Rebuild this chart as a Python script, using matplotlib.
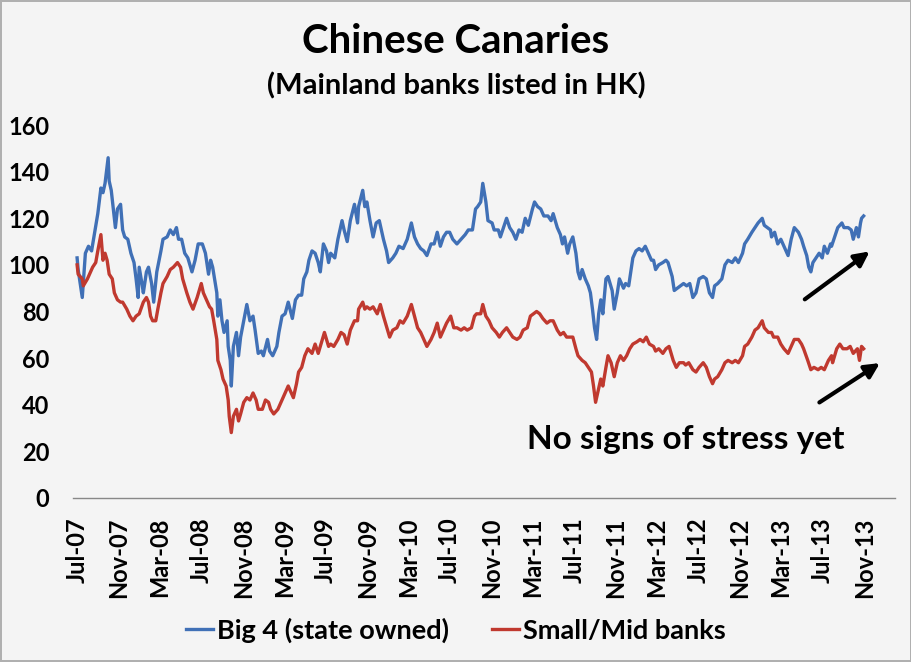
import numpy as np
import pandas as pd
import matplotlib
matplotlib.use("Agg")
import matplotlib.pyplot as plt

# months since Jul-2007 and index levels
big4_months = [0.0, 0.1, 0.5, 0.8, 1.1, 1.4, 1.7, 2.0, 2.3, 2.5, 2.7, 3.0, 3.1, 3.3, 3.5, 3.7, 3.9, 4.2, 4.4, 4.6,
               4.9, 5.2, 5.5, 5.7, 5.9, 6.0, 6.3, 6.4, 6.7, 6.9, 7.2, 7.4, 7.7, 8.1, 8.3, 8.7, 9.0, 9.3, 9.6, 9.8,
               10.1, 10.4, 10.7, 11.1, 11.4, 11.7, 12.1, 12.4, 12.7, 12.9, 13.1, 13.5, 13.6, 13.8, 14.0, 14.2, 14.5, 14.6, 14.8, 14.9,
               15.1, 15.4, 15.6, 15.8, 16.1, 16.4, 16.7, 17.0, 17.2, 17.5, 17.8, 18.0, 18.4, 18.6, 18.9, 19.3, 19.5, 19.8, 20.1, 20.4,
               20.8, 21.1, 21.4, 21.7, 21.9, 22.2, 22.4, 22.7, 23.0, 23.3, 23.5, 23.8, 24.1, 24.3, 24.5, 24.9, 25.2, 25.6, 25.8, 26.1,
               26.4, 26.8, 27.1, 27.2, 27.6, 27.8, 28.0, 28.3, 28.6, 28.9, 29.2, 29.6, 29.9, 30.1, 30.5, 30.8, 31.1, 31.5, 31.9, 32.3,
               32.6, 32.9, 33.2, 33.5, 33.8, 34.2, 34.5, 34.8, 35.1, 35.4, 35.7, 36.0, 36.3, 36.7, 37.1, 37.5, 37.8, 38.2, 38.5, 38.7,
               39.0, 39.2, 39.5, 39.7, 40.1, 40.3, 40.7, 40.9, 41.2, 41.5, 41.8, 42.1, 42.4, 42.7, 43.0, 43.3, 43.6, 44.0, 44.2, 44.5,
               44.8, 45.1, 45.5, 45.8, 46.0, 46.4, 46.7, 46.9, 47.1, 47.4, 47.6, 47.9, 48.2, 48.4, 48.6, 48.8, 49.1, 49.4, 49.6, 49.8,
               50.0, 50.2, 50.4, 50.6, 50.8, 51.1, 51.3, 51.7, 51.9, 52.2, 52.4, 52.8, 53.0, 53.3, 53.7, 54.0, 54.3, 54.6, 54.9, 55.2,
               55.5, 55.7, 55.9, 56.2, 56.6, 56.9, 57.1, 57.5, 57.7, 58.0, 58.3, 58.6, 58.9, 59.2, 59.5, 59.8, 60.1, 60.5, 60.8, 61.1,
               61.4, 61.6, 61.9, 62.3, 62.6, 62.9, 63.3, 63.6, 63.9, 64.3, 64.5, 64.8, 65.2, 65.5, 65.8, 66.2, 66.4, 66.7, 67.0, 67.1,
               67.4, 67.7, 68.0, 68.3, 68.7, 69.0, 69.3, 69.7, 70.0, 70.2, 70.5, 70.7, 70.9, 71.1, 71.4, 71.7, 72.0, 72.2, 72.5, 72.8,
               72.9, 73.2, 73.5, 73.9, 74.1, 74.5, 74.8, 75.0, 75.3, 75.5, 75.7, 75.8, 76.0]
big4_values = [103, 98, 86, 105, 108, 106, 114, 122, 133, 131, 135, 146, 136, 132, 124, 116, 124, 126, 115, 112,
               111, 105, 101, 94, 86, 99, 91, 88, 97, 99, 92, 84, 97, 106, 111, 112, 115, 113, 116, 111,
               111, 105, 103, 97, 102, 109, 109, 105, 96, 102, 99, 88, 78, 85, 76, 71, 76, 65, 59, 48,
               65, 71, 61, 69, 76, 83, 76, 78, 72, 62, 63, 61, 68, 63, 61, 65, 71, 78, 79, 84,
               77, 85, 87, 87, 94, 97, 102, 106, 105, 101, 97, 109, 106, 101, 105, 103, 111, 119, 115, 110,
               119, 126, 118, 125, 132, 125, 127, 119, 112, 118, 119, 111, 106, 101, 103, 105, 108, 107, 111, 118,
               112, 109, 107, 106, 104, 109, 109, 114, 108, 112, 114, 114, 111, 109, 111, 113, 115, 115, 124, 125,
               127, 135, 127, 119, 118, 115, 115, 112, 116, 120, 116, 114, 111, 115, 114, 120, 117, 124, 127, 125,
               124, 121, 121, 119, 122, 116, 113, 109, 112, 105, 109, 112, 105, 97, 94, 98, 94, 91, 88, 81,
               73, 68, 79, 85, 79, 94, 95, 89, 81, 88, 94, 90, 92, 91, 103, 106, 107, 106, 108, 105,
               102, 102, 98, 100, 101, 102, 101, 95, 89, 90, 91, 92, 91, 92, 86, 88, 94, 95, 94, 88,
               86, 91, 92, 94, 100, 102, 101, 103, 101, 105, 109, 111, 114, 116, 118, 120, 117, 116, 115, 112,
               114, 109, 111, 108, 104, 111, 116, 114, 111, 108, 104, 99, 97, 101, 103, 105, 103, 108, 105, 109,
               108, 112, 116, 118, 116, 116, 115, 111, 116, 112, 118, 120, 121]

small_months = [0.0, 0.1, 0.5, 0.6, 1.0, 1.2, 1.5, 1.8, 2.0, 2.3, 2.5, 2.7, 2.9, 3.1, 3.4, 3.6, 3.9, 4.2, 4.4, 4.8,
                5.1, 5.4, 5.7, 6.0, 6.4, 6.7, 6.9, 7.1, 7.3, 7.6, 7.8, 8.1, 8.3, 8.7, 9.0, 9.3, 9.7, 10.0, 10.2, 10.6,
                10.9, 11.2, 11.6, 12.0, 12.2, 12.6, 12.8, 13.0, 13.2, 13.5, 13.6, 13.9, 14.1, 14.4, 14.6, 14.7, 14.9, 15.1, 15.4, 15.6,
                15.8, 16.1, 16.4, 16.7, 17.0, 17.3, 17.5, 17.9, 18.2, 18.5, 18.7, 19.0, 19.4, 19.7, 20.0, 20.4, 20.7, 20.9, 21.2, 21.4,
                21.7, 22.0, 22.3, 22.7, 23.0, 23.3, 23.7, 23.9, 24.3, 24.5, 24.8, 25.2, 25.5, 25.8, 26.1, 26.4, 26.8, 27.1, 27.2, 27.6,
                27.8, 28.0, 28.3, 28.6, 29.0, 29.3, 29.6, 30.0, 30.2, 30.5, 30.9, 31.2, 31.5, 31.9, 32.3, 32.6, 32.9, 33.2, 33.5, 33.8,
                34.2, 34.5, 34.8, 35.1, 35.4, 35.7, 36.1, 36.4, 36.7, 37.1, 37.4, 37.7, 38.1, 38.4, 38.6, 39.0, 39.2, 39.5, 39.8, 40.1,
                40.5, 40.8, 41.1, 41.5, 41.8, 42.1, 42.5, 42.8, 43.1, 43.5, 43.8, 44.1, 44.4, 44.7, 45.0, 45.4, 45.7, 46.0, 46.4, 46.7,
                47.0, 47.3, 47.6, 47.9, 48.2, 48.4, 48.8, 49.1, 49.4, 49.7, 49.9, 50.1, 50.3, 50.6, 50.8, 51.1, 51.3, 51.6, 51.9, 52.2,
                52.5, 52.8, 53.1, 53.4, 53.7, 54.1, 54.4, 54.7, 55.0, 55.3, 55.7, 55.9, 56.2, 56.6, 56.9, 57.2, 57.6, 57.9, 58.2, 58.6,
                58.8, 59.1, 59.5, 59.8, 60.1, 60.5, 60.8, 61.1, 61.4, 61.6, 61.9, 62.3, 62.6, 62.9, 63.3, 63.6, 63.9, 64.3, 64.5, 64.8,
                65.2, 65.5, 65.8, 66.2, 66.4, 66.8, 67.1, 67.3, 67.7, 68.0, 68.3, 68.7, 69.0, 69.3, 69.7, 70.0, 70.2, 70.6, 70.9, 71.2,
                71.6, 71.9, 72.2, 72.6, 72.9, 73.0, 73.4, 73.7, 74.0, 74.4, 74.7, 75.0, 75.4, 75.6, 75.8, 76.0]
small_values = [100, 96, 94, 91, 94, 96, 99, 101, 106, 113, 102, 105, 102, 96, 94, 88, 85, 84, 84, 81,
                78, 76, 78, 79, 84, 86, 84, 78, 76, 76, 81, 88, 92, 95, 98, 99, 101, 99, 94, 88,
                84, 81, 86, 92, 88, 84, 82, 81, 76, 68, 59, 55, 51, 48, 42, 35, 28, 35, 38, 33,
                36, 41, 43, 42, 45, 42, 38, 38, 42, 41, 38, 36, 38, 41, 44, 48, 45, 43, 49, 54,
                56, 61, 64, 62, 66, 62, 68, 71, 65, 66, 65, 68, 71, 70, 66, 72, 76, 76, 81, 84,
                81, 82, 81, 82, 79, 83, 78, 72, 69, 72, 73, 76, 75, 78, 83, 78, 73, 71, 68, 65,
                68, 71, 75, 69, 72, 75, 78, 73, 73, 72, 73, 72, 73, 78, 79, 79, 83, 78, 76, 73,
                71, 69, 71, 73, 71, 69, 68, 69, 72, 73, 78, 79, 80, 79, 77, 75, 76, 76, 72, 70,
                71, 69, 69, 69, 64, 61, 59, 58, 56, 54, 48, 41, 45, 51, 48, 56, 61, 58, 52, 58,
                61, 59, 61, 64, 66, 67, 68, 67, 69, 66, 65, 63, 64, 62, 64, 65, 59, 56, 58, 58,
                57, 58, 55, 54, 56, 58, 56, 52, 49, 51, 52, 55, 58, 59, 58, 59, 58, 61, 65, 66,
                69, 72, 73, 76, 73, 71, 71, 69, 69, 66, 64, 62, 65, 68, 68, 66, 64, 59, 55, 56,
                55, 56, 55, 59, 61, 58, 64, 66, 64, 64, 65, 62, 64, 59, 65, 64]

tick_labels = ["Jul-07", "Nov-07", "Mar-08", "Jul-08", "Nov-08", "Mar-09", "Jul-09", "Nov-09", "Mar-10", "Jul-10",
               "Nov-10", "Mar-11", "Jul-11", "Nov-11", "Mar-12", "Jul-12", "Nov-12", "Mar-13", "Jul-13", "Nov-13"]

start = pd.Timestamp("2007-07-01")


def to_dates(months):
    return start + pd.to_timedelta(np.array(months) * 30.44, unit="D")


big4_dates = to_dates(big4_months)
small_dates = to_dates(small_months)
tick_dates = pd.to_datetime(tick_labels, format="%b-%y")

plt.rcParams["font.family"] = ["Lato", "DejaVu Sans"]
plt.rcParams["font.weight"] = "bold"

bg = "#f4f4f4"
blue = "#4070b6"
red = "#c0392f"

fig = plt.figure(figsize=(9.12, 6.62), dpi=100)
fig.patch.set_facecolor(bg)
fig.patch.set_edgecolor("#b0b0b0")
fig.patch.set_linewidth(1.5)
ax = fig.add_axes([0.080, 0.248, 0.901, 0.563])
ax.set_facecolor(bg)

ax.plot(big4_dates, big4_values, color=blue, lw=2.4, label="Big 4 (state owned)")
ax.plot(small_dates, small_values, color=red, lw=2.4, label="Small/Mid banks")

ax.set_ylim(0, 160)
ax.set_yticks(range(0, 161, 20))
ax.set_xlim(to_dates([-0.4])[0], to_dates([79.0])[0])
ax.set_xticks(tick_dates)
ax.set_xticklabels(tick_labels, rotation=90)
ax.tick_params(axis="both", length=0, labelsize=17)
ax.tick_params(axis="y", pad=17)
ax.tick_params(axis="x", pad=14)
for s in ["top", "right", "left"]:
    ax.spines[s].set_visible(False)
ax.spines["bottom"].set_color("#888888")
ax.spines["bottom"].set_linewidth(1)

# annotation and arrows
ax.text(to_dates([58.8])[0], 25, "No signs of stress yet", fontsize=24, fontweight="bold",
        ha="center", va="center")
ax.annotate("", xy=(to_dates([76.8])[0], 106.5), xytext=(to_dates([70.1])[0], 84.5),
            arrowprops=dict(arrowstyle="-|>", color="black", lw=3, mutation_scale=22))
ax.annotate("", xy=(to_dates([77.8])[0], 58.5), xytext=(to_dates([71.5])[0], 40.3),
            arrowprops=dict(arrowstyle="-|>", color="black", lw=3, mutation_scale=22))

fig.text(0.5, 0.937, "Chinese Canaries", ha="center", va="center", fontsize=29, fontweight="bold")
fig.text(0.5, 0.870, "(Mainland banks listed in HK)", ha="center", va="center", fontsize=21, fontweight="bold")

fig.legend(loc="center", bbox_to_anchor=(0.5, 0.048), ncol=2, frameon=False, fontsize=19.5,
           handlelength=1.0, handletextpad=0.15, columnspacing=1.6)

fig.savefig("out.png", dpi=100, facecolor=fig.get_facecolor(), edgecolor=fig.get_edgecolor())
